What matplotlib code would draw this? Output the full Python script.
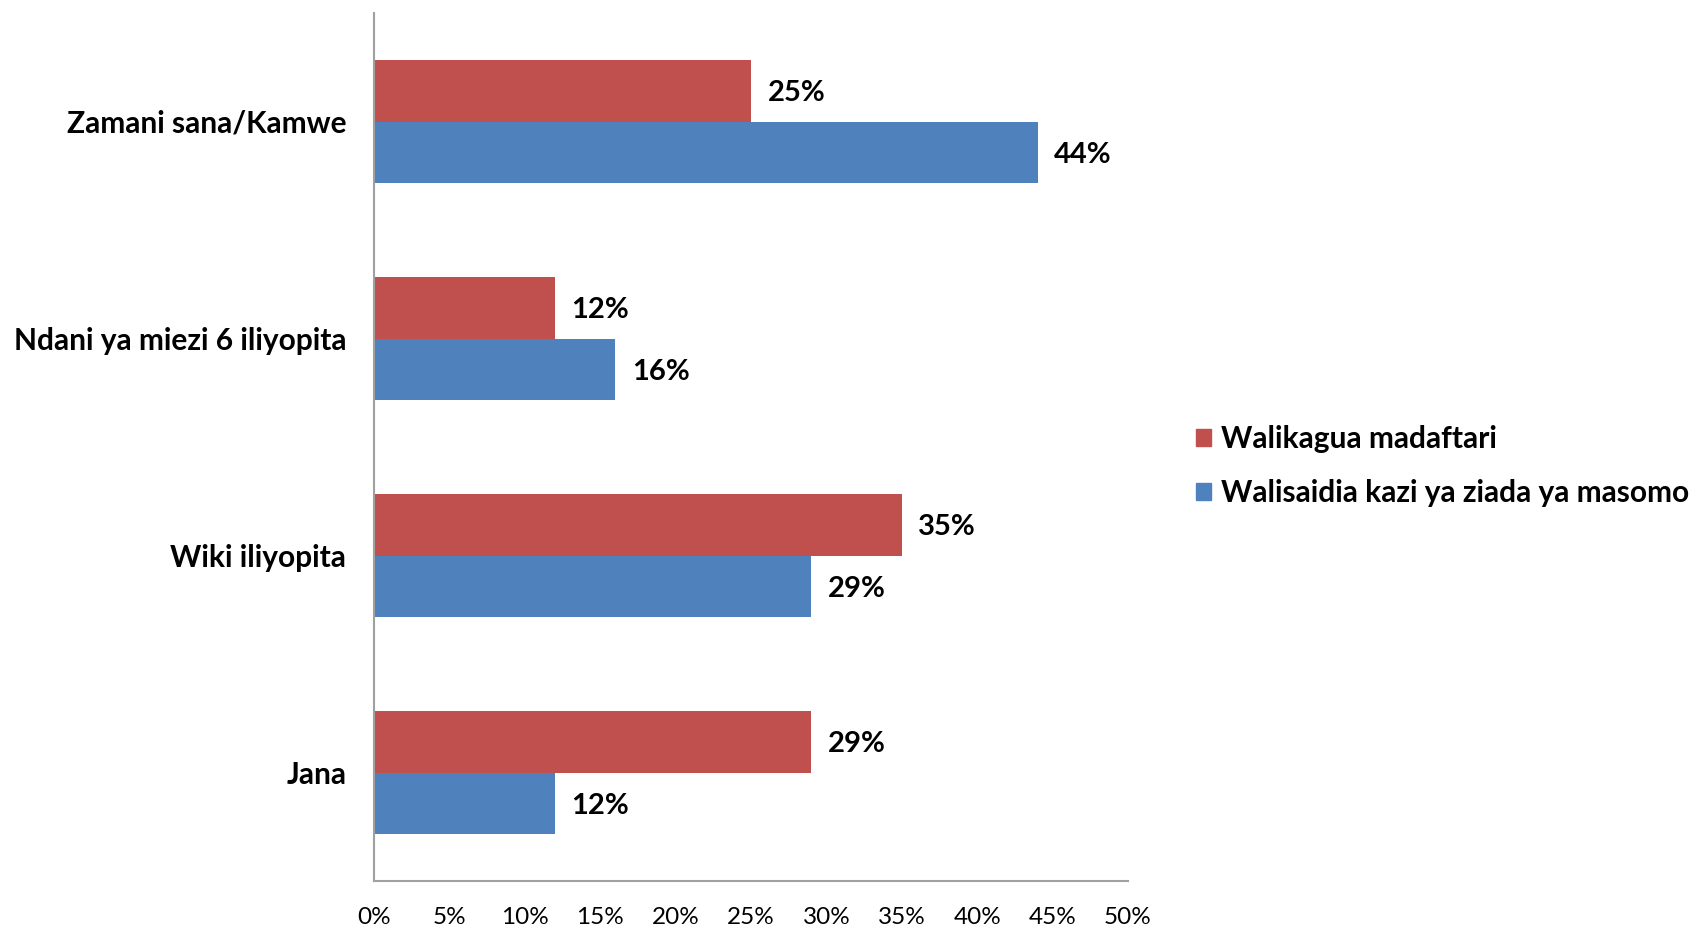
import matplotlib
matplotlib.use("Agg")
import matplotlib.pyplot as plt
import numpy as np
from matplotlib.patches import Patch

categories = ["Jana", "Wiki iliyopita", "Ndani ya miezi 6 iliyopita", "Zamani sana/Kamwe"]
series_names = ["Walikagua madaftari", "Walisaidia kazi ya ziada ya masomo"]
red_vals = [29, 35, 12, 25]
blue_vals = [12, 29, 16, 44]
xticks = [0, 5, 10, 15, 20, 25, 30, 35, 40, 45, 50]

RED = "#C0504D"
BLUE = "#4F81BD"
FONT = "Lato"

fig = plt.figure(figsize=(16.98, 9.27), dpi=100)
W, H = 1698, 927
left, right, top, bottom = 374, 1128, 13, 881
ax = fig.add_axes([left / W, 1 - bottom / H, (right - left) / W, (bottom - top) / H])

y = np.arange(len(categories))
h = 0.285
ax.barh(y + h / 2, red_vals, height=h, color=RED, label=series_names[0])
ax.barh(y - h / 2, blue_vals, height=h, color=BLUE, label=series_names[1])

for yi, v in zip(y + h / 2, red_vals):
    ax.annotate(f"{v}%", (v, yi), xytext=(12, -1.5), textcoords="offset points",
                va="center", ha="left", fontsize=21, fontweight="bold", family=FONT)
for yi, v in zip(y - h / 2, blue_vals):
    ax.annotate(f"{v}%", (v, yi), xytext=(12, -1.5), textcoords="offset points",
                va="center", ha="left", fontsize=21, fontweight="bold", family=FONT)

ax.set_xlim(0, 50)
ax.set_ylim(-0.5, 3.5)
ax.set_xticks(xticks)
ax.set_xticklabels([f"{t}%" for t in xticks], fontsize=17.5, family=FONT)
ax.set_yticks(y)
ax.set_yticklabels(categories, fontsize=21.5, fontweight="bold", family=FONT)
ax.tick_params(axis="both", length=0)
ax.tick_params(axis="x", pad=19)
ax.tick_params(axis="y", pad=20)
for s in ["top", "right"]:
    ax.spines[s].set_visible(False)
for s in ["left", "bottom"]:
    ax.spines[s].set_color("#A0A0A0")
    ax.spines[s].set_linewidth(1.5)

handles = [Patch(color=RED), Patch(color=BLUE)]
fig.legend(handles, series_names, loc="center left", bbox_to_anchor=(1169 / W, 1 - 466 / H),
           frameon=False, prop={"family": FONT, "weight": "bold", "size": 21.5},
           handlelength=0.5, handleheight=0.5, handletextpad=0.35, labelspacing=0.88)

fig.savefig("out.png", dpi=100, facecolor="white")
